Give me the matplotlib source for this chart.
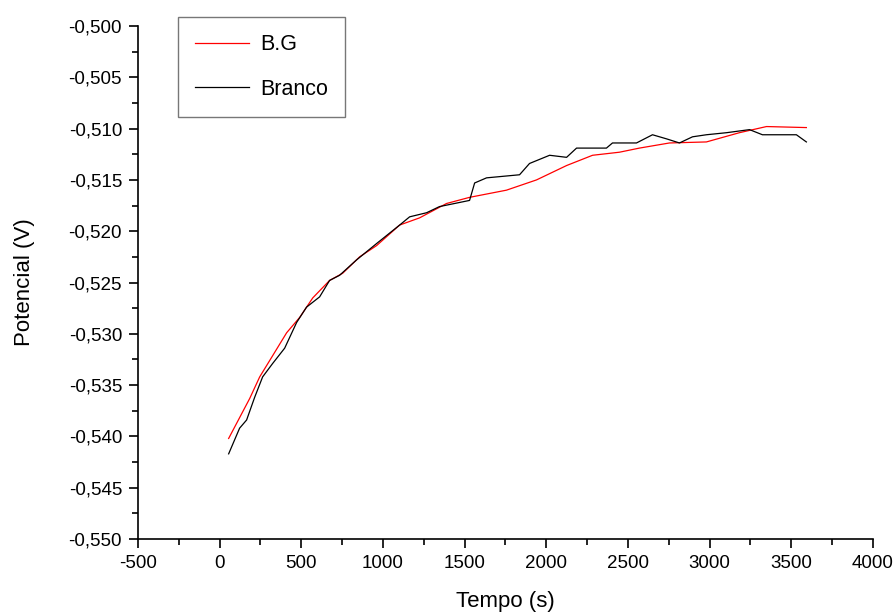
import matplotlib
matplotlib.use("Agg")
import matplotlib.pyplot as plt
from matplotlib.ticker import FuncFormatter, MultipleLocator

plt.rcParams["font.family"] = ["Liberation Sans", "DejaVu Sans"]

# B.G (red)
bg_t = [55, 184, 245, 318, 410, 490, 570, 673, 753, 857, 961, 1102, 1224, 1389,
        1530, 1756, 1940, 2124, 2283, 2448, 2570, 2754, 2980, 3182, 3348, 3592]
bg_v = [-0.5402, -0.5363, -0.5342, -0.5323, -0.5299, -0.5284, -0.5265, -0.5248,
        -0.5241, -0.5225, -0.5214, -0.5194, -0.5187, -0.5173, -0.5167, -0.5160,
        -0.5150, -0.5136, -0.5126, -0.5123, -0.5119, -0.5114, -0.5113, -0.5104,
        -0.5098, -0.5099]

# Branco (black)
br_t = [55, 122, 165, 214, 263, 324, 398, 471, 532, 612, 673, 734, 838, 961,
        1102, 1163, 1267, 1346, 1530, 1561, 1634, 1836, 1897, 2020, 2124, 2185,
        2368, 2405, 2552, 2650, 2736, 2815, 2895, 2980, 3103, 3244, 3323, 3531,
        3592]
br_v = [-0.5417, -0.5392, -0.5384, -0.5362, -0.5342, -0.5329, -0.5314, -0.5289,
        -0.5274, -0.5264, -0.5248, -0.5243, -0.5228, -0.5212, -0.5194, -0.5186,
        -0.5182, -0.5176, -0.5170, -0.5153, -0.5148, -0.5145, -0.5134, -0.5126,
        -0.5128, -0.5119, -0.5119, -0.5114, -0.5114, -0.5106, -0.5110, -0.5114,
        -0.5108, -0.5106, -0.5104, -0.5101, -0.5106, -0.5106, -0.5113]

fig = plt.figure(figsize=(8.95, 6.14), dpi=100)
ax = fig.add_axes([138 / 895, 1 - 539 / 614, (873 - 138) / 895, (539 - 26) / 614])

ax.plot(bg_t, bg_v, color="red", lw=0.9, label="B.G")
ax.plot(br_t, br_v, color="black", lw=0.9, label="Branco")

ax.set_xlim(-500, 4000)
ax.set_ylim(-0.550, -0.500)
ax.xaxis.set_major_locator(MultipleLocator(500))
ax.xaxis.set_minor_locator(MultipleLocator(250))
ax.yaxis.set_major_locator(MultipleLocator(0.005))
ax.yaxis.set_minor_locator(MultipleLocator(0.0025))
ax.yaxis.set_major_formatter(FuncFormatter(lambda v, p: f"{v:.3f}".replace(".", ",")))
ax.xaxis.set_major_formatter(FuncFormatter(lambda v, p: f"{v:.0f}"))

for s in ("top", "right"):
    ax.spines[s].set_visible(False)
for s in ("left", "bottom"):
    ax.spines[s].set_linewidth(1.2)
ax.tick_params(which="major", direction="out", length=6.5, width=1.2,
               labelsize=13.5, pad=5)
ax.tick_params(which="minor", direction="out", length=4, width=1.2)

ax.set_xlabel("Tempo (s)", fontsize=16, labelpad=14)
ax.set_ylabel("Potencial (V)", fontsize=16, labelpad=24)

leg = ax.legend(loc="upper left", bbox_to_anchor=(178 / 895, 1 - 17 / 614),
                bbox_transform=fig.transFigure, borderaxespad=0, fancybox=False,
                edgecolor="#555555", fontsize=15.5, handlelength=2.5,
                labelspacing=1.1, borderpad=0.8, handletextpad=0.5)
leg.get_frame().set_linewidth(1.0)

fig.savefig("out.png", dpi=100)
